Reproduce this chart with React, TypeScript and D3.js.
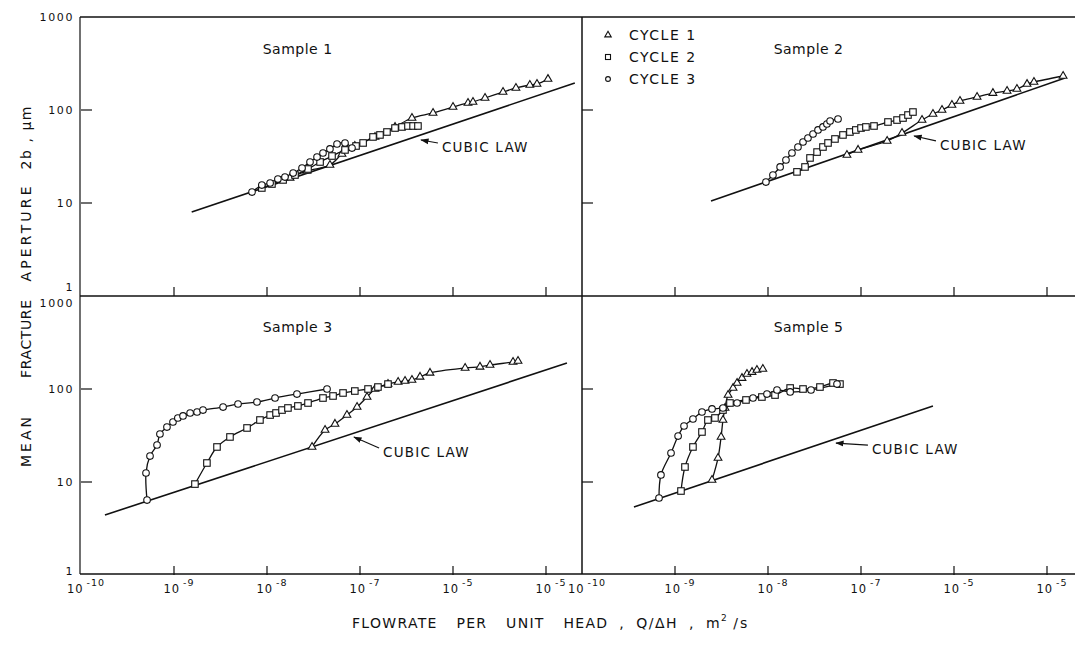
import React from 'react'
import * as d3 from 'd3'

type Pt = [number, number] // [Q/ΔH in m²/s, 2b in μm]

// Sample 1
const s1Cycle1: Pt[] = [[1.77e-8, 18.6], [2.69e-8, 22.1], [4.75e-8, 25.6], [6.4e-8, 33.6], [8.8e-8, 41.0], [1.45e-7, 51.3], [2.38e-7, 65.7], [3.62e-7, 82.0], [6.1e-7, 92.9], [1.0e-6, 107.7], [1.45e-6, 119], [1.64e-6, 122], [2.21e-6, 134.6], [3.45e-6, 156], [4.75e-6, 172.5], [6.7e-6, 185.7], [8.0e-6, 190.5], [1.05e-5, 215]]
const s1Cycle2: Pt[] = [[8.8e-9, 14.5], [1.13e-8, 16.0], [1.49e-8, 17.7], [2.0e-8, 20.0], [2.76e-8, 23.2], [3.72e-8, 27.6], [5.0e-8, 32.0], [6.9e-8, 37.2], [9.06e-8, 41.0], [1.08e-7, 44.2], [1.38e-7, 51.3], [1.64e-7, 53.9], [1.95e-7, 58.0], [2.38e-7, 64.0], [2.83e-7, 65.7], [3.28e-7, 67.3], [3.72e-7, 67.3], [4.2e-7, 67.3]]
const s1Cycle3: Pt[] = [[6.9e-9, 13.1], [8.8e-9, 15.6], [1.08e-8, 16.4], [1.31e-8, 18.1], [1.56e-8, 19.0], [1.91e-8, 21.0], [2.38e-8, 23.8], [2.9e-8, 27.6], [3.45e-8, 31.2], [4.0e-8, 34.5], [4.75e-8, 38.1], [5.66e-8, 43.1], [6.9e-8, 44.2], [8.2e-8, 39.0]]
const s1Cubic: Pt[] = [[1.55e-9, 8.0], [2.04e-5, 195]]

// Sample 2
const s2Cycle1: Pt[] = [[7.06e-8, 32.8], [9.3e-8, 37.2], [1.91e-7, 46.4], [2.76e-7, 56.6], [4.53e-7, 78.0], [5.94e-7, 90.6], [7.43e-7, 100], [9.5e-7, 113], [1.16e-6, 125], [1.77e-6, 138], [2.62e-6, 152], [3.72e-6, 160], [4.75e-6, 168], [6.1e-6, 190], [7.24e-6, 200], [1.49e-5, 232]]
const s2Cycle2: Pt[] = [[2.05e-8, 21.6], [2.5e-8, 24.4], [2.83e-8, 30.5], [3.37e-8, 35.3], [3.9e-8, 40.0], [4.42e-8, 44.2], [5.25e-8, 48.8], [6.4e-8, 53.9], [7.6e-8, 58.0], [8.8e-8, 61.0], [1.0e-7, 64.0], [1.13e-7, 65.7], [1.38e-7, 67.3], [1.95e-7, 74.3], [2.44e-7, 78.0], [2.83e-7, 82.0], [3.2e-7, 88.3], [3.62e-7, 95.1]]
const s2Cycle3: Pt[] = [[9.5e-9, 16.8], [1.13e-8, 20.0], [1.35e-8, 24.4], [1.56e-8, 29.0], [1.81e-8, 34.5], [2.1e-8, 40.0], [2.38e-8, 45.3], [2.69e-8, 50.0], [3.05e-8, 55.2], [3.45e-8, 61.0], [3.9e-8, 65.7], [4.3e-8, 70.7], [4.65e-8, 76.2], [5.66e-8, 80.0]]
const s2Cubic: Pt[] = [[2.44e-9, 10.5], [1.56e-5, 221]]

// Sample 3
const s3Cycle1: Pt[] = [[3.05e-8, 23.8], [4.21e-8, 36.2], [5.38e-8, 42.1], [7.24e-8, 52.5], [9.3e-8, 64.0], [1.19e-7, 82.0], [1.45e-7, 100], [2.0e-7, 113], [2.57e-7, 119], [3.05e-7, 122], [3.62e-7, 125], [4.42e-7, 135], [5.66e-7, 149], [1.35e-6, 168], [1.95e-6, 173], [2.5e-6, 181], [4.42e-6, 195], [5.0e-6, 200]]
const s3Cycle2: Pt[] = [[1.68e-9, 9.5], [2.26e-9, 16.0], [2.9e-9, 23.8], [4.0e-9, 30.5], [6.1e-9, 38.1], [8.4e-9, 46.4], [1.08e-8, 52.5], [1.25e-8, 55.2], [1.45e-8, 59.4], [1.68e-8, 62.5], [2.15e-8, 65.7], [2.76e-8, 70.7], [4.0e-8, 80.0], [5.13e-8, 84.1], [6.57e-8, 90.6], [8.8e-8, 95.1], [1.22e-7, 100], [1.56e-7, 105], [2.0e-7, 113]]
const s3Cycle3: Pt[] = [[5.13e-10, 6.4], [5.0e-10, 12.5], [5.52e-10, 19.0], [6.57e-10, 25.0], [7.06e-10, 32.8], [8.4e-10, 39.0], [9.75e-10, 44.2], [1.1e-9, 48.8], [1.25e-9, 51.3], [1.49e-9, 55.2], [1.77e-9, 56.6], [2.05e-9, 59.4], [3.37e-9, 64.0], [4.88e-9, 69.0], [7.8e-9, 72.5], [1.22e-8, 80.0], [2.1e-8, 88.3], [4.42e-8, 100]]
const s3Cubic: Pt[] = [[1.81e-10, 4.42], [1.68e-5, 190]]

// Sample 5
const s5Cycle1: Pt[] = [[2.5e-9, 10.5], [2.9e-9, 18.1], [3.13e-9, 30.5], [3.28e-9, 46.4], [3.45e-9, 62.5], [3.72e-9, 86.1], [4.21e-9, 102.5], [4.65e-9, 116], [5.25e-9, 131], [5.94e-9, 145], [6.73e-9, 152], [7.6e-9, 160], [8.8e-9, 164]]
const s5Cycle2: Pt[] = [[1.16e-9, 8.0], [1.28e-9, 14.5], [1.56e-9, 23.8], [1.95e-9, 34.5], [2.26e-9, 46.4], [2.69e-9, 48.8], [3.28e-9, 59.4], [3.9e-9, 70.7], [5.8e-9, 76.2], [8.6e-9, 82.0], [1.19e-8, 86.1], [1.73e-8, 102.5], [2.38e-8, 100], [3.62e-8, 105], [5.0e-8, 116], [5.94e-8, 113]]
const s5Cycle3: Pt[] = [[6.73e-10, 6.73], [7.06e-10, 11.9], [9.06e-10, 20.5], [1.08e-9, 31.2], [1.25e-9, 40.0], [1.56e-9, 47.6], [1.95e-9, 56.6], [2.5e-9, 61.0], [3.28e-9, 62.5], [4.65e-9, 70.7], [6.9e-9, 80.0], [9.75e-9, 88.3], [1.25e-8, 97.5], [1.73e-8, 92.9], [2.9e-8, 97.5], [5.52e-8, 113]]
const s5Cubic: Pt[] = [[3.62e-10, 5.39], [5.94e-7, 65.7]]

// "CUBIC LAW" notes: [arrow tip, text start]
const s1Note: Pt[] = [[4.1e-7, 48.8], [7.6e-7, 40.0]]
const s2Note: Pt[] = [[3.37e-7, 53.9], [7.06e-7, 42.1]]
const s3Note: Pt[] = [[7.8e-8, 31.2], [1.77e-7, 21.0]]
const s5Note: Pt[] = [[4.88e-8, 26.9], [1.31e-7, 22.6]]

const sampleTitles = ['Sample 1', 'Sample 2', 'Sample 3', 'Sample 5']
const xTickValues = [1e-10, 1e-9, 1e-8, 1e-7, 1e-6, 1e-5]
const xTickExponents = ['-10', '-9', '-8', '-7', '-5', '-5']
const yTickValues = [1, 10, 100, 1000]
const yTickLabels = ['1', '10', '100', '1000']
const cycleNames = ['CYCLE 1', 'CYCLE 2', 'CYCLE 3']

const DEC = 93 // px per decade
const FONT = '"DejaVu Sans", sans-serif'
const RIGHT = 1075

const panels = [
  { title: sampleTitles[0], col: 0, row: 0, cycles: [s1Cycle1, s1Cycle2, s1Cycle3], cubic: s1Cubic, note: s1Note },
  { title: sampleTitles[1], col: 1, row: 0, cycles: [s2Cycle1, s2Cycle2, s2Cycle3], cubic: s2Cubic, note: s2Note },
  { title: sampleTitles[2], col: 0, row: 1, cycles: [s3Cycle1, s3Cycle2, s3Cycle3], cubic: s3Cubic, note: s3Note },
  { title: sampleTitles[3], col: 1, row: 1, cycles: [s5Cycle1, s5Cycle2, s5Cycle3], cubic: s5Cubic, note: s5Note },
]

const scalesFor = (col: number, row: number) => {
  const x0 = col === 0 ? 81 : 582
  const y1 = row === 0 ? 296 : 575
  const x = d3.scaleLog().domain([1e-10, 1e-5]).range([x0, x0 + 5 * DEC])
  const y = d3.scaleLog().domain([1, 1000]).range([y1, y1 - 3 * DEC])
  return { x, y }
}

const triPath = d3.symbol().type(d3.symbolTriangle).size(26)() as string
const triSmall = d3.symbol().type(d3.symbolTriangle).size(18)() as string

function Marker({ kind, cx, cy, small }: { kind: number; cx: number; cy: number; small?: boolean }) {
  const st = { fill: 'white', stroke: '#111', strokeWidth: 1.1 }
  if (kind === 0) return <path d={small ? triSmall : triPath} transform={`translate(${cx},${cy})`} {...st} />
  if (kind === 1) {
    const s = small ? 5 : 6.5
    return <rect x={cx - s / 2} y={cy - s / 2} width={s} height={s} {...st} />
  }
  return <circle cx={cx} cy={cy} r={small ? 2.4 : 3.3} {...st} />
}

function Panel({ p }: { p: (typeof panels)[number] }) {
  const { x, y } = scalesFor(p.col, p.row)
  const line = d3
    .line<Pt>()
    .x((d) => x(d[0]))
    .y((d) => y(d[1]))
    .curve(d3.curveCatmullRom.alpha(0.5))
  const straight = d3.line<Pt>().x((d) => x(d[0])).y((d) => y(d[1]))
  const [tip, txt] = p.note
  const y1 = y(1)
  return (
    <g>
      {/* x ticks pointing up from bottom edge */}
      {xTickValues.slice(1).map((v) => (
        <line key={v} x1={x(v)} x2={x(v)} y1={y1} y2={y1 - 9} stroke="#111" strokeWidth={1.2} />
      ))}
      {/* y ticks pointing right from left edge */}
      {[10, 100].map((v) => (
        <line key={v} x1={x(1e-10)} x2={x(1e-10) + 11} y1={y(v)} y2={y(v)} stroke="#111" strokeWidth={1.2} />
      ))}
      <text x={x(p.col === 0 ? 9e-9 : 1.15e-8)} y={y(p.row === 0 ? 400 : 410)} fontFamily={FONT} fontSize={14} letterSpacing={0.5} fill="#111">
        {p.title}
      </text>
      <path d={straight(p.cubic) as string} fill="none" stroke="#111" strokeWidth={1.6} />
      {p.cycles.map((c, i) => (
        <path key={i} d={line(c) as string} fill="none" stroke="#111" strokeWidth={1.3} />
      ))}
      {p.cycles.map((c, i) =>
        c.map((d, j) => <Marker key={i + '-' + j} kind={i} cx={x(d[0])} cy={y(d[1])} />)
      )}
      <line
        x1={x(txt[0]) - 4}
        y1={y(txt[1]) - 4}
        x2={x(tip[0]) + 4}
        y2={y(tip[1]) + 1}
        stroke="#111"
        strokeWidth={1.2}
        markerEnd="url(#arrow)"
      />
      <text x={x(txt[0])} y={y(txt[1]) + 5} fontFamily={FONT} fontSize={13.5} letterSpacing={1.2} fill="#111">
        CUBIC LAW
      </text>
    </g>
  )
}

export default function App() {
  const top = scalesFor(0, 0)
  const bot = scalesFor(0, 1)
  const right = scalesFor(1, 0)
  const xL = top.x(1e-10) - 1
  const xMid = right.x(1e-10)
  const yTop = top.y(1000)
  const yMid = top.y(1)
  const yBot = bot.y(1) - 1

  const yLabelOffset = (row: number, v: number) => {
    if (row === 0 && v === 1) return -9
    if (row === 1 && v === 1000) return 7
    if (row === 1 && v === 1) return -4
    return 0
  }

  const legendX = xMid + 26
  return (
    <svg width={1075} height={649} style={{ position: 'absolute', left: 0, top: 0, background: 'white' }}>
      <defs>
        <marker id="arrow" viewBox="0 0 10 10" refX="9" refY="5" markerWidth="7" markerHeight="7" orient="auto">
          <path d="M0,1.5 L10,5 L0,8.5 z" fill="#111" />
        </marker>
      </defs>

      {/* frame */}
      <g stroke="#111" strokeWidth={1.5}>
        <line x1={xL} x2={RIGHT} y1={yTop} y2={yTop} />
        <line x1={xL} x2={RIGHT} y1={yMid} y2={yMid} />
        <line x1={xL} x2={RIGHT} y1={yBot} y2={yBot} />
        <line x1={xL} x2={xL} y1={yTop} y2={yBot} strokeWidth={1.2} />
        <line x1={xMid} x2={xMid} y1={yTop} y2={yBot} />
      </g>

      {panels.map((p) => (
        <Panel key={p.title} p={p} />
      ))}

      {/* y tick labels */}
      {[0, 1].map((row) => {
        const { y } = scalesFor(0, row)
        return yTickValues.map((v, i) => (
          <text
            key={row + '-' + v}
            x={74}
            y={y(v) + yLabelOffset(row, v) + 4}
            textAnchor="end"
            fontFamily={FONT}
            fontSize={11}
            letterSpacing={1.6}
            fill="#111"
          >
            {yTickLabels[i]}
          </text>
        ))
      })}

      {/* x tick labels */}
      {[0, 1].map((col) => {
        const { x } = scalesFor(col, 1)
        return xTickValues.map((v, i) => (
          <text key={col + '-' + i} x={x(v) + 5} y={593} textAnchor="middle" fontFamily={FONT} fontSize={11.5} letterSpacing={1} fill="#111">
            10
            <tspan dy={-7} fontSize={9.5}>
              {'\u2009' + xTickExponents[i]}
            </tspan>
          </text>
        ))
      })}

      {/* legend */}
      {cycleNames.map((n, i) => (
        <g key={n}>
          <Marker kind={i} cx={legendX} cy={35 + i * 22} small />
          <text x={legendX + 21} y={40 + i * 22} fontFamily={FONT} fontSize={14} letterSpacing={1.5} fill="#111">
            {n}
          </text>
        </g>
      ))}

      {/* y axis title */}
      {[
        ['MEAN', 442, 50],
        ['FRACTURE', 339, 78],
        ['APERTURE', 234, 95],
        ['2b , \u03bcm', 138, 63],
      ].map(([w, cy, len]) => (
        <text
          key={w as string}
          transform={`translate(31,${cy}) rotate(-90)`}
          textAnchor="middle"
          fontFamily={FONT}
          fontSize={14}
          textLength={len as number}
          lengthAdjust="spacing"
          fill="#111"
        >
          {w}
        </text>
      ))}

      {/* x axis title */}
      <text x={352} y={628} fontFamily={FONT} fontSize={14} fill="#111">
        <tspan letterSpacing={1.3} wordSpacing={13}>FLOWRATE PER UNIT HEAD</tspan>
        <tspan letterSpacing={1.5} wordSpacing={5}>{' , Q/ΔH , m'}</tspan>
        <tspan dy={-7} fontSize={9}>2</tspan>
        <tspan dy={7} letterSpacing={2}>{' /s'}</tspan>
      </text>
    </svg>
  )
}
